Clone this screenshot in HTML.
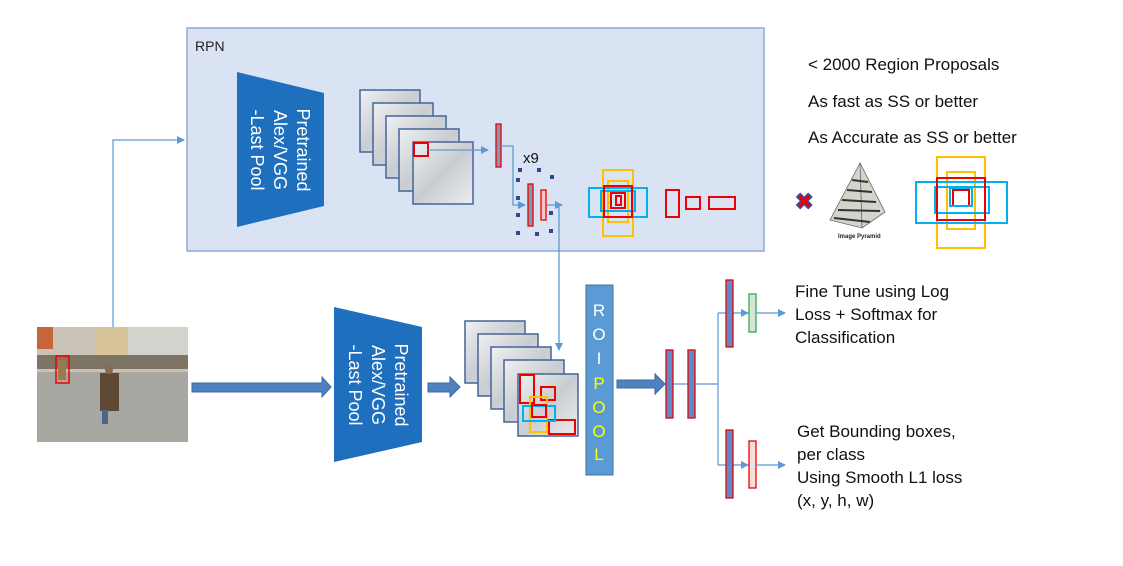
<!DOCTYPE html>
<html><head><meta charset="utf-8"><style>
html,body{margin:0;padding:0;background:#fff;width:1123px;height:566px;overflow:hidden}
text{font-family:"Liberation Sans",sans-serif}
</style></head><body>
<svg width="1123" height="566" viewBox="0 0 1123 566" xmlns="http://www.w3.org/2000/svg">
<defs>
<marker id="ah" markerWidth="8" markerHeight="8" refX="7" refY="4" orient="auto" markerUnits="userSpaceOnUse">
<path d="M0,0 L8,4 L0,8 z" fill="#5b9bd5"/></marker>
<linearGradient id="fm" x1="0" y1="0" x2="1" y2="1">
<stop offset="0" stop-color="#eef0f2"/><stop offset="0.5" stop-color="#c9ccd0"/><stop offset="1" stop-color="#eceef0"/></linearGradient>
</defs>
<rect x="187" y="28" width="577" height="223" fill="#dae3f3" stroke="#8faadc" stroke-width="1.5"/>
<text x="195" y="51" font-size="14" fill="#222">RPN</text>
<polygon points="237,72 324,93 324,206 237,227" fill="#1f6fbf"/>
<g transform="translate(280,150) rotate(90)" fill="#fff" font-size="18" text-anchor="middle">
<text x="0" y="-17">Pretrained</text><text x="0" y="6">Alex/VGG</text><text x="0" y="29">-Last Pool</text></g>
<g stroke="#44649a" stroke-width="1.5" fill="url(#fm)">
<rect x="360" y="90" width="60" height="62"/><rect x="373" y="103" width="60" height="62"/>
<rect x="386" y="116" width="60" height="62"/><rect x="399" y="129" width="60" height="62"/>
<rect x="413" y="142" width="60" height="62"/></g>
<rect x="414" y="143" width="14" height="13" fill="none" stroke="#e00" stroke-width="2"/>
<line x1="428" y1="150" x2="488" y2="150" stroke="#5b9bd5" stroke-width="1.3" marker-end="url(#ah)"/>
<rect x="496" y="124" width="5" height="43" fill="#8497b0" stroke="#e00" stroke-width="1.3"/>
<polyline points="501,146 513,146 513,205 525,205" fill="none" stroke="#5b9bd5" stroke-width="1.3" marker-end="url(#ah)"/>
<text x="523" y="163" font-size="15" fill="#111">x9</text>
<g fill="#2f4a8a">
<rect x="518" y="168" width="4" height="4"/><rect x="537" y="168" width="4" height="4"/><rect x="550" y="175" width="4" height="4"/>
<rect x="516" y="178" width="4" height="4"/><rect x="516" y="196" width="4" height="4"/><rect x="516" y="213" width="4" height="4"/>
<rect x="516" y="231" width="4" height="4"/><rect x="535" y="232" width="4" height="4"/><rect x="549" y="229" width="4" height="4"/>
<rect x="549" y="211" width="4" height="4"/></g>
<rect x="528" y="184" width="5" height="42" fill="#8497b0" stroke="#e00" stroke-width="1.3"/>
<rect x="541" y="190" width="5" height="30" fill="#f4c7c3" stroke="#e00" stroke-width="1.3"/>
<line x1="547" y1="205" x2="562" y2="205" stroke="#5b9bd5" stroke-width="1.3" marker-end="url(#ah)"/>
<line x1="559" y1="205" x2="559" y2="350" stroke="#5b9bd5" stroke-width="1.3" marker-end="url(#ah)"/>
<g fill="none" stroke-width="2">
<rect x="603" y="170" width="30" height="66" stroke="#ffc000"/>
<rect x="608" y="181" width="20" height="41" stroke="#ffc000"/>
<rect x="589" y="188" width="58" height="29" stroke="#00b0f0"/>
<rect x="601" y="191" width="34" height="20" stroke="#00b0f0"/>
<rect x="604" y="186" width="28" height="31" stroke="#e00"/>
<rect x="611" y="193" width="14" height="15" stroke="#e00"/>
<rect x="616" y="196" width="5" height="9" stroke="#e00"/>
<rect x="666" y="190" width="13" height="27" stroke="#e00"/>
<rect x="686" y="197" width="14" height="12" stroke="#e00"/>
<rect x="709" y="197" width="26" height="12" stroke="#e00"/></g>
<g font-size="17" fill="#111">
<text x="808" y="70">&lt; 2000 Region Proposals</text>
<text x="808" y="107">As fast as SS or better</text>
<text x="808" y="143">As Accurate as SS or better</text></g>
<text x="795" y="209" font-size="22" font-weight="bold" fill="#e00" stroke="#3a4a9a" stroke-width="0.8">✖</text>
<polygon points="860,163 830,220 862,228 885,212" fill="#d4d4cc" stroke="#666" stroke-width="0.8"/>
<line x1="860" y1="163" x2="862" y2="228" stroke="#666" stroke-width="0.8"/>
<g stroke="#333" stroke-width="2"><line x1="852" y1="180" x2="868" y2="182"/><line x1="847" y1="190" x2="872" y2="192"/><line x1="842" y1="200" x2="876" y2="202"/><line x1="838" y1="210" x2="880" y2="211"/><line x1="834" y1="218" x2="870" y2="222"/></g>
<text x="838" y="238" font-size="6" font-weight="bold" fill="#222">Image Pyramid</text>
<g fill="none" stroke-width="2">
<rect x="937" y="157" width="48" height="91" stroke="#ffc000"/>
<rect x="947" y="172" width="28" height="57" stroke="#ffc000"/>
<rect x="916" y="182" width="91" height="41" stroke="#00b0f0"/>
<rect x="935" y="187" width="54" height="26" stroke="#00b0f0"/>
<rect x="937" y="178" width="48" height="42" stroke="#e00"/>
<rect x="953" y="190" width="16" height="16" stroke="#e00"/>
<rect x="950" y="188" width="22" height="18" stroke="#00b0f0"/></g>
<rect x="37" y="327" width="151" height="115" fill="#b9b6ae"/>
<rect x="37" y="327" width="151" height="45" fill="#c9c2b6"/>
<rect x="37" y="327" width="16" height="22" fill="#c8643a"/>
<rect x="95" y="327" width="33" height="40" fill="#d8c49a"/>
<rect x="128" y="327" width="60" height="40" fill="#d4d2cc"/>
<rect x="37" y="355" width="151" height="14" fill="#7d7466"/>
<rect x="37" y="372" width="151" height="70" fill="#a9a7a2"/>
<rect x="100" y="373" width="19" height="38" fill="#5e4a34"/>
<circle cx="109" cy="370" r="4" fill="#8a6a50"/>
<rect x="102" y="410" width="6" height="14" fill="#4a6888"/>
<rect x="58" y="360" width="8" height="20" fill="#9a7a50"/>
<rect x="56" y="356" width="13" height="27" fill="none" stroke="#e00" stroke-width="1.5"/>
<polyline points="113,327 113,140 184,140" fill="none" stroke="#5b9bd5" stroke-width="1.2" marker-end="url(#ah)"/>
<polygon points="192,383 322,383 322,377 331,387 322,397 322,392 192,392" fill="#4f81bd" stroke="#3a6aa5" stroke-width="1"/>
<polygon points="334,307 422,327 422,442 334,462" fill="#1f6fbf"/>
<g transform="translate(378,385) rotate(90)" fill="#fff" font-size="18" text-anchor="middle">
<text x="0" y="-17">Pretrained</text><text x="0" y="6">Alex/VGG</text><text x="0" y="29">-Last Pool</text></g>
<polygon points="428,383 450,383 450,377 460,387 450,397 450,392 428,392" fill="#4f81bd" stroke="#3a6aa5" stroke-width="1"/>
<g stroke="#44649a" stroke-width="1.5" fill="url(#fm)">
<rect x="465" y="321" width="60" height="62"/><rect x="478" y="334" width="60" height="62"/>
<rect x="491" y="347" width="60" height="62"/><rect x="504" y="360" width="60" height="62"/>
<rect x="518" y="374" width="60" height="62"/></g>
<g fill="none" stroke-width="2">
<rect x="520" y="375" width="14" height="28" stroke="#e00"/>
<rect x="541" y="387" width="14" height="13" stroke="#e00"/>
<rect x="549" y="420" width="26" height="14" stroke="#e00"/>
<rect x="530" y="397" width="17" height="35" stroke="#ffc000"/>
<rect x="523" y="406" width="32" height="15" stroke="#00b0f0"/>
<rect x="532" y="405" width="14" height="12" stroke="#e00"/></g>
<rect x="586" y="285" width="27" height="190" fill="#5b9bd5" stroke="#41719c" stroke-width="1"/>
<g font-size="17" text-anchor="middle">
<text x="599" y="316" fill="#fff">R</text><text x="599" y="340" fill="#fff">O</text><text x="599" y="364" fill="#fff">I</text>
<text x="599" y="389" fill="#ffff00">P</text><text x="599" y="413" fill="#ffff00">O</text><text x="599" y="437" fill="#ffff00">O</text><text x="599" y="460" fill="#ffff00">L</text></g>
<polygon points="617,380 655,380 655,374 665,384 655,394 655,388 617,388" fill="#4f81bd" stroke="#3a6aa5" stroke-width="1"/>
<line x1="673" y1="384" x2="718" y2="384" stroke="#5b9bd5" stroke-width="1.2"/>
<line x1="718" y1="313" x2="718" y2="465" stroke="#5b9bd5" stroke-width="1.2"/>
<rect x="666" y="350" width="7" height="68" fill="#5b8bc8" stroke="#e00" stroke-width="1.3"/>
<rect x="688" y="350" width="7" height="68" fill="#5b8bc8" stroke="#e00" stroke-width="1.3"/>
<line x1="718" y1="313" x2="748" y2="313" stroke="#5b9bd5" stroke-width="1.2" marker-end="url(#ah)"/>
<line x1="718" y1="465" x2="748" y2="465" stroke="#5b9bd5" stroke-width="1.2" marker-end="url(#ah)"/>
<rect x="726" y="280" width="7" height="67" fill="#5b8bc8" stroke="#e00" stroke-width="1.3"/>
<rect x="726" y="430" width="7" height="68" fill="#5b8bc8" stroke="#e00" stroke-width="1.3"/>
<rect x="749" y="294" width="7" height="38" fill="#d9e4d9" stroke="#2fae4f" stroke-width="1.3"/>
<rect x="749" y="441" width="7" height="47" fill="#f4dede" stroke="#e00" stroke-width="1.3"/>
<line x1="756" y1="313" x2="785" y2="313" stroke="#5b9bd5" stroke-width="1.2" marker-end="url(#ah)"/>
<line x1="756" y1="465" x2="785" y2="465" stroke="#5b9bd5" stroke-width="1.2" marker-end="url(#ah)"/>
<g font-size="17" fill="#111">
<text x="795" y="297">Fine Tune using Log</text>
<text x="795" y="320">Loss + Softmax for</text>
<text x="795" y="343">Classification</text>
<text x="797" y="437">Get Bounding boxes,</text>
<text x="797" y="460">per class</text>
<text x="797" y="483">Using Smooth L1 loss</text>
<text x="797" y="506">(x, y, h, w)</text></g>
</svg>
</body></html>
